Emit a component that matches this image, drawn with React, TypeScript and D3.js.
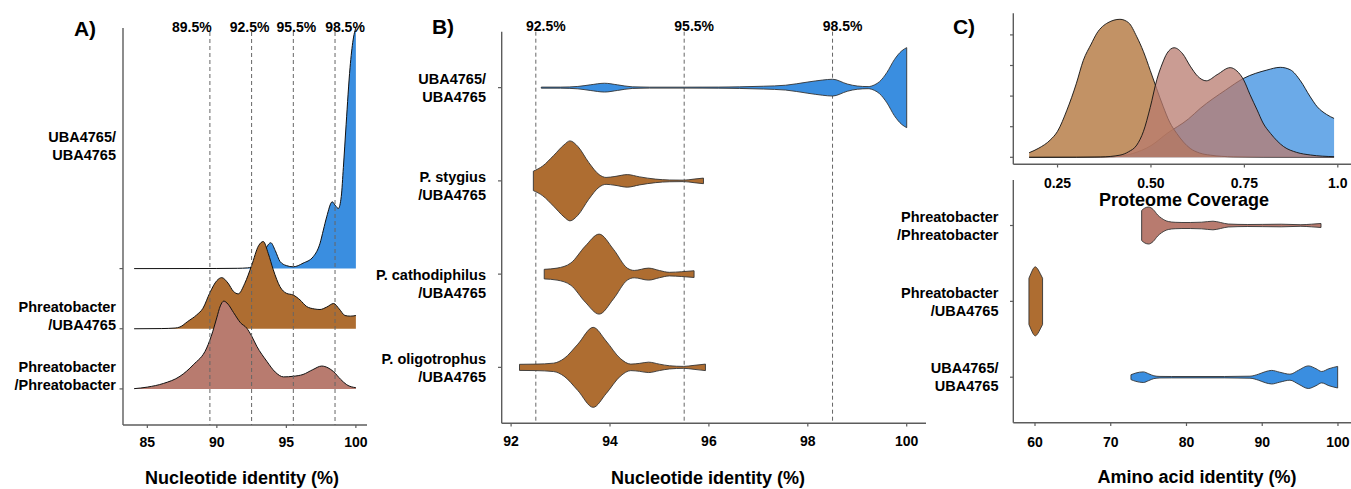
import React from 'react'
import * as d3 from 'd3'

// ---------- panel A : ridgeline, nucleotide identity ----------
const ridgeLabels = [['Phreatobacter', '/Phreatobacter'], ['Phreatobacter', '/UBA4765'], ['UBA4765/', 'UBA4765']]
const ridgePhreato: [number, number][] = [[84.05, 0.004], [85, 0.03], [86.15, 0.09], [87.35, 0.21], [88.3, 0.4], [89.27, 0.68], [89.7, 0.95], [89.99, 1.18], [90.25, 1.38], [90.5, 1.46], [90.8, 1.41], [91.2, 1.27], [91.7, 1.1], [92.15, 1.01], [92.5, 0.88], [92.87, 0.71], [93.59, 0.46], [94.2, 0.28], [94.8, 0.2], [95.5, 0.21], [96.2, 0.24], [96.9, 0.32], [97.54, 0.38], [98.0, 0.35], [98.38, 0.29], [98.9, 0.16], [99.34, 0.07], [100, 0.02]]
const ridgeMixed: [number, number][] = [[84.05, 0], [86, 0.003], [87, 0.012], [87.35, 0.03], [87.9, 0.12], [88.55, 0.23], [89.0, 0.34], [89.5, 0.6], [90.0, 0.8], [90.35, 0.85], [90.8, 0.76], [91.2, 0.62], [91.54, 0.58], [92.0, 0.75], [92.5, 1.05], [93.0, 1.38], [93.34, 1.45], [93.7, 1.25], [94.06, 0.98], [94.54, 0.7], [95.0, 0.59], [95.5, 0.56], [95.98, 0.48], [96.46, 0.37], [97.0, 0.33], [97.42, 0.32], [97.9, 0.36], [98.4, 0.42], [98.8, 0.33], [99.22, 0.22], [99.6, 0.21], [100, 0.22]]
const ridgeUba: [number, number][] = [[84.05, 0], [88, 0.001], [90, 0.002], [91.5, 0.005], [92.2, 0.012], [92.8, 0.05], [93.2, 0.15], [93.5, 0.32], [93.88, 0.43], [94.2, 0.3], [94.54, 0.12], [95.0, 0.05], [95.5, 0.03], [96.2, 0.09], [96.94, 0.2], [97.42, 0.42], [97.66, 0.64], [97.9, 0.86], [98.3, 1.11], [98.55, 1.04], [98.74, 1.0], [98.95, 1.2], [99.1, 1.68], [99.3, 2.4], [99.58, 3.34], [99.8, 3.8], [99.94, 3.96], [100, 4.0]]
const ticksA = [85, 90, 95, 100]
const cutoffsA = [89.5, 92.5, 95.5, 98.5]

// ---------- panel B : violins, nucleotide identity ----------
const labelsB = [['P. oligotrophus', '/UBA4765'], ['P. cathodiphilus', '/UBA4765'], ['P. stygius', '/UBA4765'], ['UBA4765/', 'UBA4765']]
const violinOligo: [number, number][] = [[92.17, 0.076], [92.5, 0.081], [92.86, 0.105], [93.07, 0.22], [93.35, 0.58], [93.66, 1.0], [93.92, 0.66], [94.21, 0.22], [94.42, 0.081], [94.6, 0.1], [94.78, 0.13], [95.0, 0.08], [95.2, 0.04], [95.49, 0.024], [95.7, 0.05], [95.93, 0.081]]
const violinCatho: [number, number][] = [[92.67, 0.12], [92.93, 0.15], [93.21, 0.28], [93.5, 0.7], [93.78, 1.0], [94.07, 0.62], [94.35, 0.15], [94.49, 0.092], [94.78, 0.15], [95.0, 0.09], [95.2, 0.045], [95.45, 0.06], [95.7, 0.084]]
const violinStygius: [number, number][] = [[92.45, 0.243], [92.64, 0.373], [92.86, 0.634], [93.07, 0.9], [93.19, 1.0], [93.35, 0.86], [93.57, 0.46], [93.78, 0.157], [93.92, 0.086], [94.1, 0.11], [94.35, 0.157], [94.6, 0.1], [94.92, 0.044], [95.2, 0.022], [95.49, 0.018], [95.7, 0.045], [95.89, 0.07]]
const violinUbaB: [number, number][] = [[92.61, 0.013], [93.0, 0.013], [93.35, 0.03], [93.6, 0.07], [93.89, 0.11], [94.15, 0.07], [94.45, 0.02], [94.8, 0.012], [95.5, 0.012], [96.2, 0.014], [96.62, 0.02], [97.1, 0.035], [97.55, 0.06], [98.0, 0.14], [98.3, 0.19], [98.5, 0.21], [98.8, 0.09], [99.0, 0.04], [99.22, 0.026], [99.35, 0.07], [99.45, 0.15], [99.6, 0.38], [99.75, 0.7], [99.9, 0.92], [100, 1.0]]
const ticksB = [92, 94, 96, 98, 100]
const cutoffsB = [92.5, 95.5, 98.5]

// ---------- panel C top : proteome coverage densities ----------
const coverageUba: [number, number][] = [[0.174, 0.002], [0.3, 0.004], [0.4, 0.02], [0.45, 0.12], [0.5, 0.38], [0.543, 0.78], [0.6, 1.25], [0.632, 1.6], [0.7, 2.2], [0.748, 2.58], [0.81, 2.85], [0.846, 2.94], [0.873, 2.86], [0.9, 2.5], [0.925, 2.0], [0.945, 1.65], [0.97, 1.4], [0.99, 1.27]]
const coverageMixed: [number, number][] = [[0.174, 0.15], [0.2, 0.3], [0.23, 0.56], [0.25, 0.85], [0.275, 1.54], [0.3, 2.4], [0.319, 3.17], [0.34, 3.7], [0.355, 4.05], [0.385, 4.4], [0.417, 4.51], [0.44, 4.4], [0.462, 3.94], [0.48, 3.45], [0.498, 2.84], [0.515, 2.25], [0.533, 1.65], [0.55, 1.15], [0.569, 0.78], [0.605, 0.29], [0.63, 0.14], [0.659, 0.07], [0.72, 0.015], [0.8, 0.003], [0.99, 0]]
const coveragePhreato: [number, number][] = [[0.174, 0], [0.3, 0.002], [0.365, 0.01], [0.417, 0.07], [0.44, 0.18], [0.462, 0.4], [0.48, 0.85], [0.498, 1.63], [0.516, 2.55], [0.53, 3.05], [0.543, 3.4], [0.562, 3.58], [0.585, 3.38], [0.605, 2.98], [0.625, 2.65], [0.648, 2.5], [0.677, 2.7], [0.712, 2.93], [0.73, 2.82], [0.748, 2.53], [0.765, 2.05], [0.784, 1.55], [0.8, 1.12], [0.82, 0.78], [0.855, 0.35], [0.89, 0.16], [0.927, 0.075], [0.99, 0.02]]
const coverageTicks = [0.25, 0.5, 0.75, 1.0]
const coverageTickLabels = ['0.25', '0.50', '0.75', '1.0']
const densityTicks = [0, 1, 2, 3, 4]

// ---------- panel C bottom : violins, amino acid identity ----------
const labelsC = [['UBA4765/', 'UBA4765'], ['Phreatobacter', '/UBA4765'], ['Phreatobacter', '/Phreatobacter']]
const aaiUba: [number, number][] = [[72.67, 0.07], [73.3, 0.12], [74.3, 0.154], [75.0, 0.1], [75.7, 0.04], [76.5, 0.022], [78, 0.02], [85, 0.02], [88.38, 0.029], [89.5, 0.087], [90.4, 0.159], [91.25, 0.197], [92.3, 0.145], [93.66, 0.087], [94.8, 0.203], [96.08, 0.328], [97.1, 0.246], [97.85, 0.165], [98.8, 0.246], [99.96, 0.313]]
const aaiMixed: [number, number][] = [[59.2, 0.67], [59.45, 0.8], [59.75, 0.94], [60.04, 1.0], [60.35, 0.94], [60.7, 0.8], [61.0, 0.67]]
const aaiPhreato: [number, number][] = [[74.08, 0.435], [74.5, 0.507], [75.0, 0.536], [75.6, 0.464], [76.2, 0.304], [76.7, 0.212], [77.6, 0.116], [78.5, 0.093], [79.4, 0.087], [80.5, 0.087], [82, 0.096], [83.5, 0.125], [84.5, 0.087], [85.5, 0.043], [88.1, 0.029], [90, 0.032], [92.5, 0.038], [95.1, 0.023], [96.5, 0.038], [97.76, 0.058]]
const aaiTicks = [60, 70, 80, 90, 100]

const BLUE = '#3a8ee0'
const BROWN = '#ae6d31'
const PINK = '#b87b6f'
const AXIS = '#5c5c5c'
const FONT = '"Liberation Sans", Arial, Helvetica, sans-serif'

type Pt = [number, number]

// baseline for a text line whose visual centre is at c
const bl = (c: number, size: number) => c + size * 0.36

const Txt = ({ x, y, size, anchor = 'middle', children }: any) => (
    <text x={x} y={bl(y, size)} fontSize={size} fontWeight="bold" fontFamily={FONT} textAnchor={anchor} fill="#000">
        {children}
    </text>
)

const TwoLine = ({ x, y, lines }: { x: number; y: number; lines: string[] }) => (
    <g>
        <Txt x={x} y={y - 9} size={14.5} anchor="end">{lines[0]}</Txt>
        <Txt x={x} y={y + 9} size={14.5} anchor="end">{lines[1]}</Txt>
    </g>
)

const violin = (pts: Pt[], cy: number, half: number, x: d3.ScaleLinear<number, number>) =>
    d3.area<Pt>()
        .x((d) => x(d[0]))
        .y0((d) => cy + d[1] * half)
        .y1((d) => cy - d[1] * half)
        .curve(d3.curveMonotoneX)(pts) as string

const App = () => {
    // ----- A -----
    const xA = d3.scaleLinear().domain([83.25, 100.8]).range([123, 367])
    const yA = d3.scaleLinear().domain([0.4, 7.0]).range([425, 28])
    const ridges = [
        { pts: ridgeUba, pos: 3, fill: BLUE },
        { pts: ridgeMixed, pos: 2, fill: BROWN },
        { pts: ridgePhreato, pos: 1, fill: PINK },
    ]
    const ridgeLabelAt = [1.22, 2.21, 5.04]
    const cutoffLabelShiftA = [-18, -2, 3, 10]

    // ----- B -----
    const xB = d3.scaleLinear().domain([91.81, 100.39]).range([501.7, 926])
    const yB = d3.scaleLinear().domain([0.4, 4.6]).range([423.3, 31.7])
    const violinsB = [violinOligo, violinCatho, violinStygius, violinUbaB]
    const fillsB = [BROWN, BROWN, BROWN, BLUE]
    const labelShiftB = [0, 10, 5, 0]

    // ----- C top -----
    const xCt = d3.scaleLinear().domain([0.1316, 1.0353]).range([1013.3, 1351])
    const yCt = d3.scaleLinear().domain([-0.229, 4.706]).range([164.3, 13.3])
    const densC = [
        { pts: coverageUba, fill: BLUE },
        { pts: coverageMixed, fill: BROWN },
        { pts: coveragePhreato, fill: PINK },
    ]
    const areaCt = d3.area<Pt>().x((d) => xCt(d[0])).y0(yCt(0)).y1((d) => yCt(d[1])).curve(d3.curveMonotoneX)
    const lineCt = d3.line<Pt>().x((d) => xCt(d[0])).y((d) => yCt(d[1])).curve(d3.curveMonotoneX)

    // ----- C bottom -----
    const xCb = d3.scaleLinear().domain([57.135, 101.72]).range([1013.3, 1351])
    const yCb = d3.scaleLinear().domain([0.4, 3.6]).range([422.7, 180])
    const violinsC = [aaiUba, aaiMixed, aaiPhreato]
    const fillsC = [BLUE, BROWN, PINK]

    return (
        <svg width={1351} height={489} style={{ position: 'absolute', left: 0, top: 0, background: '#fff' }}>
            {/* ================= A ================= */}
            <Txt x={85} y={28} size={21}>A)</Txt>
            {ridges.map((r, i) => {
                const area = d3.area<Pt>().x((d) => xA(d[0])).y0(yA(r.pos)).y1((d) => yA(r.pos + d[1])).curve(d3.curveMonotoneX)
                const line = d3.line<Pt>().x((d) => xA(d[0])).y((d) => yA(r.pos + d[1])).curve(d3.curveMonotoneX)
                return (
                    <g key={i}>
                        <path d={area(r.pts) as string} fill={r.fill} />
                        <path d={line(r.pts) as string} fill="none" stroke="#111" strokeWidth={1} />
                    </g>
                )
            })}
            {cutoffsA.map((c, i) => (
                <g key={c}>
                    <line x1={xA(c)} x2={xA(c)} y1={32} y2={425} stroke="#666" strokeWidth={1} strokeDasharray="4,3" />
                    <Txt x={xA(c) + cutoffLabelShiftA[i]} y={26.7} size={14}>{c}%</Txt>
                </g>
            ))}
            <line x1={123} x2={123} y1={28} y2={425} stroke={AXIS} strokeWidth={1.4} />
            <line x1={123} x2={367} y1={425} y2={425} stroke={AXIS} strokeWidth={1.4} />
            {[1, 2, 3].map((p) => (
                <line key={p} x1={119.5} x2={123} y1={yA(p)} y2={yA(p)} stroke={AXIS} strokeWidth={1.2} />
            ))}
            {ridgeLabels.map((l, i) => (
                <TwoLine key={i} x={116} y={yA(ridgeLabelAt[i])} lines={l} />
            ))}
            {ticksA.map((t) => (
                <g key={t}>
                    <line x1={xA(t)} x2={xA(t)} y1={425} y2={428} stroke={AXIS} strokeWidth={1.2} />
                    <Txt x={xA(t)} y={441.7} size={14}>{t}</Txt>
                </g>
            ))}
            <Txt x={242} y={478} size={18}>Nucleotide identity (%)</Txt>

            {/* ================= B ================= */}
            <Txt x={443} y={26.5} size={21}>B)</Txt>
            {cutoffsB.map((c) => (
                <g key={c}>
                    <line x1={xB(c)} x2={xB(c)} y1={31.7} y2={423.3} stroke="#666" strokeWidth={1} strokeDasharray="4,3" />
                    <Txt x={xB(c) + 10} y={25.5} size={14}>{c}%</Txt>
                </g>
            ))}
            {violinsB.map((v, i) => (
                <path key={i} d={violin(v, yB(i + 1), 40, xB)} fill={fillsB[i]} stroke="#333" strokeWidth={0.9} />
            ))}
            <line x1={501.7} x2={501.7} y1={31.7} y2={423.3} stroke={AXIS} strokeWidth={1.4} />
            <line x1={501.7} x2={926} y1={423.3} y2={423.3} stroke={AXIS} strokeWidth={1.4} />
            {labelsB.map((l, i) => (
                <g key={i}>
                    <line x1={498} x2={501.7} y1={yB(i + 1)} y2={yB(i + 1)} stroke={AXIS} strokeWidth={1.2} />
                    <TwoLine x={486} y={yB(i + 1) + labelShiftB[i]} lines={l} />
                </g>
            ))}
            {ticksB.map((t) => (
                <g key={t}>
                    <line x1={xB(t)} x2={xB(t)} y1={423.3} y2={426.5} stroke={AXIS} strokeWidth={1.2} />
                    <Txt x={xB(t)} y={440.7} size={14}>{t}</Txt>
                </g>
            ))}
            <Txt x={708} y={478} size={18}>Nucleotide identity (%)</Txt>

            {/* ================= C top ================= */}
            <Txt x={964} y={26.7} size={21}>C)</Txt>
            {densC.map((d, i) => (
                <g key={i}>
                    <path d={areaCt(d.pts) as string} fill={d.fill} fillOpacity={0.75} />
                    <path d={lineCt(d.pts) as string} fill="none" stroke="#111" strokeWidth={0.9} />
                </g>
            ))}
            <line x1={1013.3} x2={1013.3} y1={13.3} y2={164.3} stroke={AXIS} strokeWidth={1.4} />
            <line x1={1013.3} x2={1351} y1={164.3} y2={164.3} stroke={AXIS} strokeWidth={1.4} />
            {densityTicks.map((t) => (
                <line key={t} x1={1010} x2={1013.3} y1={yCt(t)} y2={yCt(t)} stroke={AXIS} strokeWidth={1.2} />
            ))}
            {coverageTicks.map((t, i) => (
                <g key={t}>
                    <line x1={xCt(t)} x2={xCt(t)} y1={164.3} y2={167.5} stroke={AXIS} strokeWidth={1.2} />
                    <Txt x={xCt(t)} y={182.7} size={14}>{coverageTickLabels[i]}</Txt>
                </g>
            ))}
            <Txt x={1184} y={200} size={18}>Proteome Coverage</Txt>

            {/* ================= C bottom ================= */}
            {violinsC.map((v, i) => (
                <path key={i} d={violin(v, yCb(i + 1), 34.5, xCb)} fill={fillsC[i]} stroke="#333" strokeWidth={0.9} />
            ))}
            <line x1={1013.3} x2={1013.3} y1={180} y2={422.7} stroke={AXIS} strokeWidth={1.4} />
            <line x1={1013.3} x2={1351} y1={422.7} y2={422.7} stroke={AXIS} strokeWidth={1.4} />
            {labelsC.map((l, i) => (
                <g key={i}>
                    <line x1={1010} x2={1013.3} y1={yCb(i + 1)} y2={yCb(i + 1)} stroke={AXIS} strokeWidth={1.2} />
                    <TwoLine x={998.5} y={yCb(i + 1)} lines={l} />
                </g>
            ))}
            {aaiTicks.map((t) => (
                <g key={t}>
                    <line x1={xCb(t)} x2={xCb(t)} y1={422.7} y2={426} stroke={AXIS} strokeWidth={1.2} />
                    <Txt x={xCb(t)} y={441.7} size={14}>{t}</Txt>
                </g>
            ))}
            <Txt x={1197} y={476.7} size={18}>Amino acid identity (%)</Txt>
        </svg>
    )
}

export default App
